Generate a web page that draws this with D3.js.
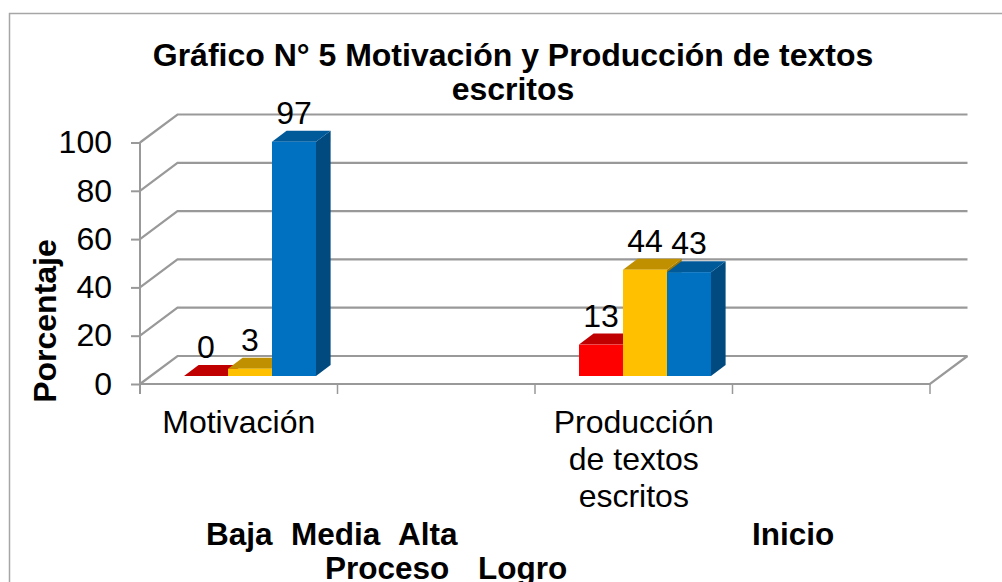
<!DOCTYPE html>
<html><head><meta charset="utf-8">
<style>html,body{margin:0;padding:0;background:#fff}svg{display:block}text{font-family:"Liberation Sans",Arial,sans-serif;fill:#000}</style>
<script src="https://cdn.jsdelivr.net/npm/d3@7"></script></head>
<body><svg id="c" width="1002" height="582"></svg>
<script>
const categories=["Motivación","","Producción de textos escritos",""];
const categoryLines=[["Motivación"],[],["Producción","de textos","escritos"],[]];
const seriesNames=["Baja / Inicio","Media / Proceso","Alta / Logro"];
const lowValues=[0,null,13,null];
const midValues=[3,null,44,null];
const highValues=[97,null,43,null];
const yTicks=[0,20,40,60,80,100];
const frontColors=["#FF0000","#FFC000","#0070C0"];
const topColors=["#C00000","#C09000","#005A9A"];
const sideColors=["#A00000","#A07800","#004A7F"];
const legendRows=[{t:"Baja",x:206,y:545},{t:"Media",x:291,y:545},{t:"Alta",x:398,y:545},{t:"Inicio",x:752,y:545},{t:"Proceso",x:325,y:579},{t:"Logro",x:478,y:579}];

const svg=d3.select("#c");
const grid="#999999";
const fs="32px";
const L=140,R=930,Y0=384,Y100=142.5,DX=37.5,DY=-28;
const x=d3.scaleBand().domain(d3.range(categories.length)).range([L,R]);
const y=d3.scaleLinear().domain([0,100]).range([Y0,Y100]);
const inner=d3.scaleBand().domain([0,1,2]).range([44,176]);
const BX=14.6,BY=-11,baseShift=-8;

// frame
svg.append("path").attr("d","M9.5,582V13.5H1002").attr("fill","none").attr("stroke","#a6a6a6").attr("stroke-width",1.5);

// walls
const g=svg.append("g").attr("fill","none").attr("stroke",grid).attr("stroke-width",2.2);
yTicks.forEach(v=>{
  g.append("path").attr("d",`M${L},${y(v)}L${L+DX},${y(v)+DY}H${R+DX}`);
});
g.append("path").attr("d",`M${L},${Y0}H${R}L${R+DX},${Y0+DY}`);

// axes
const ay=svg.append("g").attr("transform",`translate(${L},0)`).call(d3.axisLeft(y).tickValues(yTicks).tickSize(9).tickPadding(19));
ay.selectAll("path,line").attr("stroke",grid).attr("stroke-width",2);
ay.select("path").attr("d",`M0,${Y100}V${Y0+10}`);
ay.selectAll("text").style("font-family",'"Liberation Sans"').style("font-size",fs).attr("fill","#000");
const ax=svg.append("g").attr("transform",`translate(0,${Y0})`);
const xTicks=d3.range(categories.length+1).map(i=>L+i*x.bandwidth());
ax.selectAll("line").data(xTicks).join("line").attr("x1",d=>d).attr("x2",d=>d).attr("y1",0).attr("y2",10).attr("stroke",grid).attr("stroke-width",1.5);

// bars
[lowValues,midValues,highValues].forEach((vals,s)=>{
  vals.forEach((v,c)=>{
    if(v==null)return;
    const x0=x(c)+inner(s),w=inner.bandwidth(),yb=y(0)+baseShift,yt=y(v)+baseShift;
    const b=svg.append("g");
    b.append("path").attr("fill",sideColors[s]).attr("d",`M${x0+w},${yt}l${BX},${BY}V${yb+BY}L${x0+w},${yb}Z`);
    b.append("path").attr("fill",topColors[s]).attr("d",`M${x0},${yt}l${BX},${BY}h${w}l${-BX},${-BY}Z`);
    b.append("rect").attr("fill",frontColors[s]).attr("x",x0).attr("y",yt).attr("width",w).attr("height",yb-yt);
  });
});
// value labels
[lowValues,midValues,highValues].forEach((vals,s)=>{
  vals.forEach((v,c)=>{
    if(v==null)return;
    svg.append("text").attr("x",x(c)+inner(s)+inner.bandwidth()/2).attr("y",y(v)+baseShift-18)
      .attr("text-anchor","middle").style("font-size",fs).text(v);
  });
});
// category labels
categoryLines.forEach((ls,c)=>{
  ls.forEach((t,i)=>svg.append("text").attr("x",x(c)+x.bandwidth()/2).attr("y",432.5+i*37)
    .attr("text-anchor","middle").style("font-size",fs).text(t));
});
// title
[["Gráfico N° 5 Motivación y Producción de textos",66],["escritos",100]].forEach(([t,b])=>
  svg.append("text").attr("x",513).attr("y",b).attr("text-anchor","middle").style("font-size",fs).style("font-weight","bold").text(t));
// y title
svg.append("text").attr("transform","translate(55.5,321) rotate(-90)").attr("text-anchor","middle").style("font-size",fs).style("font-weight","bold").text("Porcentaje");
// legend
legendRows.forEach(d=>svg.append("text").attr("x",d.x).attr("y",d.y).style("font-size","31.5px").style("font-weight","bold").text(d.t));
</script></body></html>
